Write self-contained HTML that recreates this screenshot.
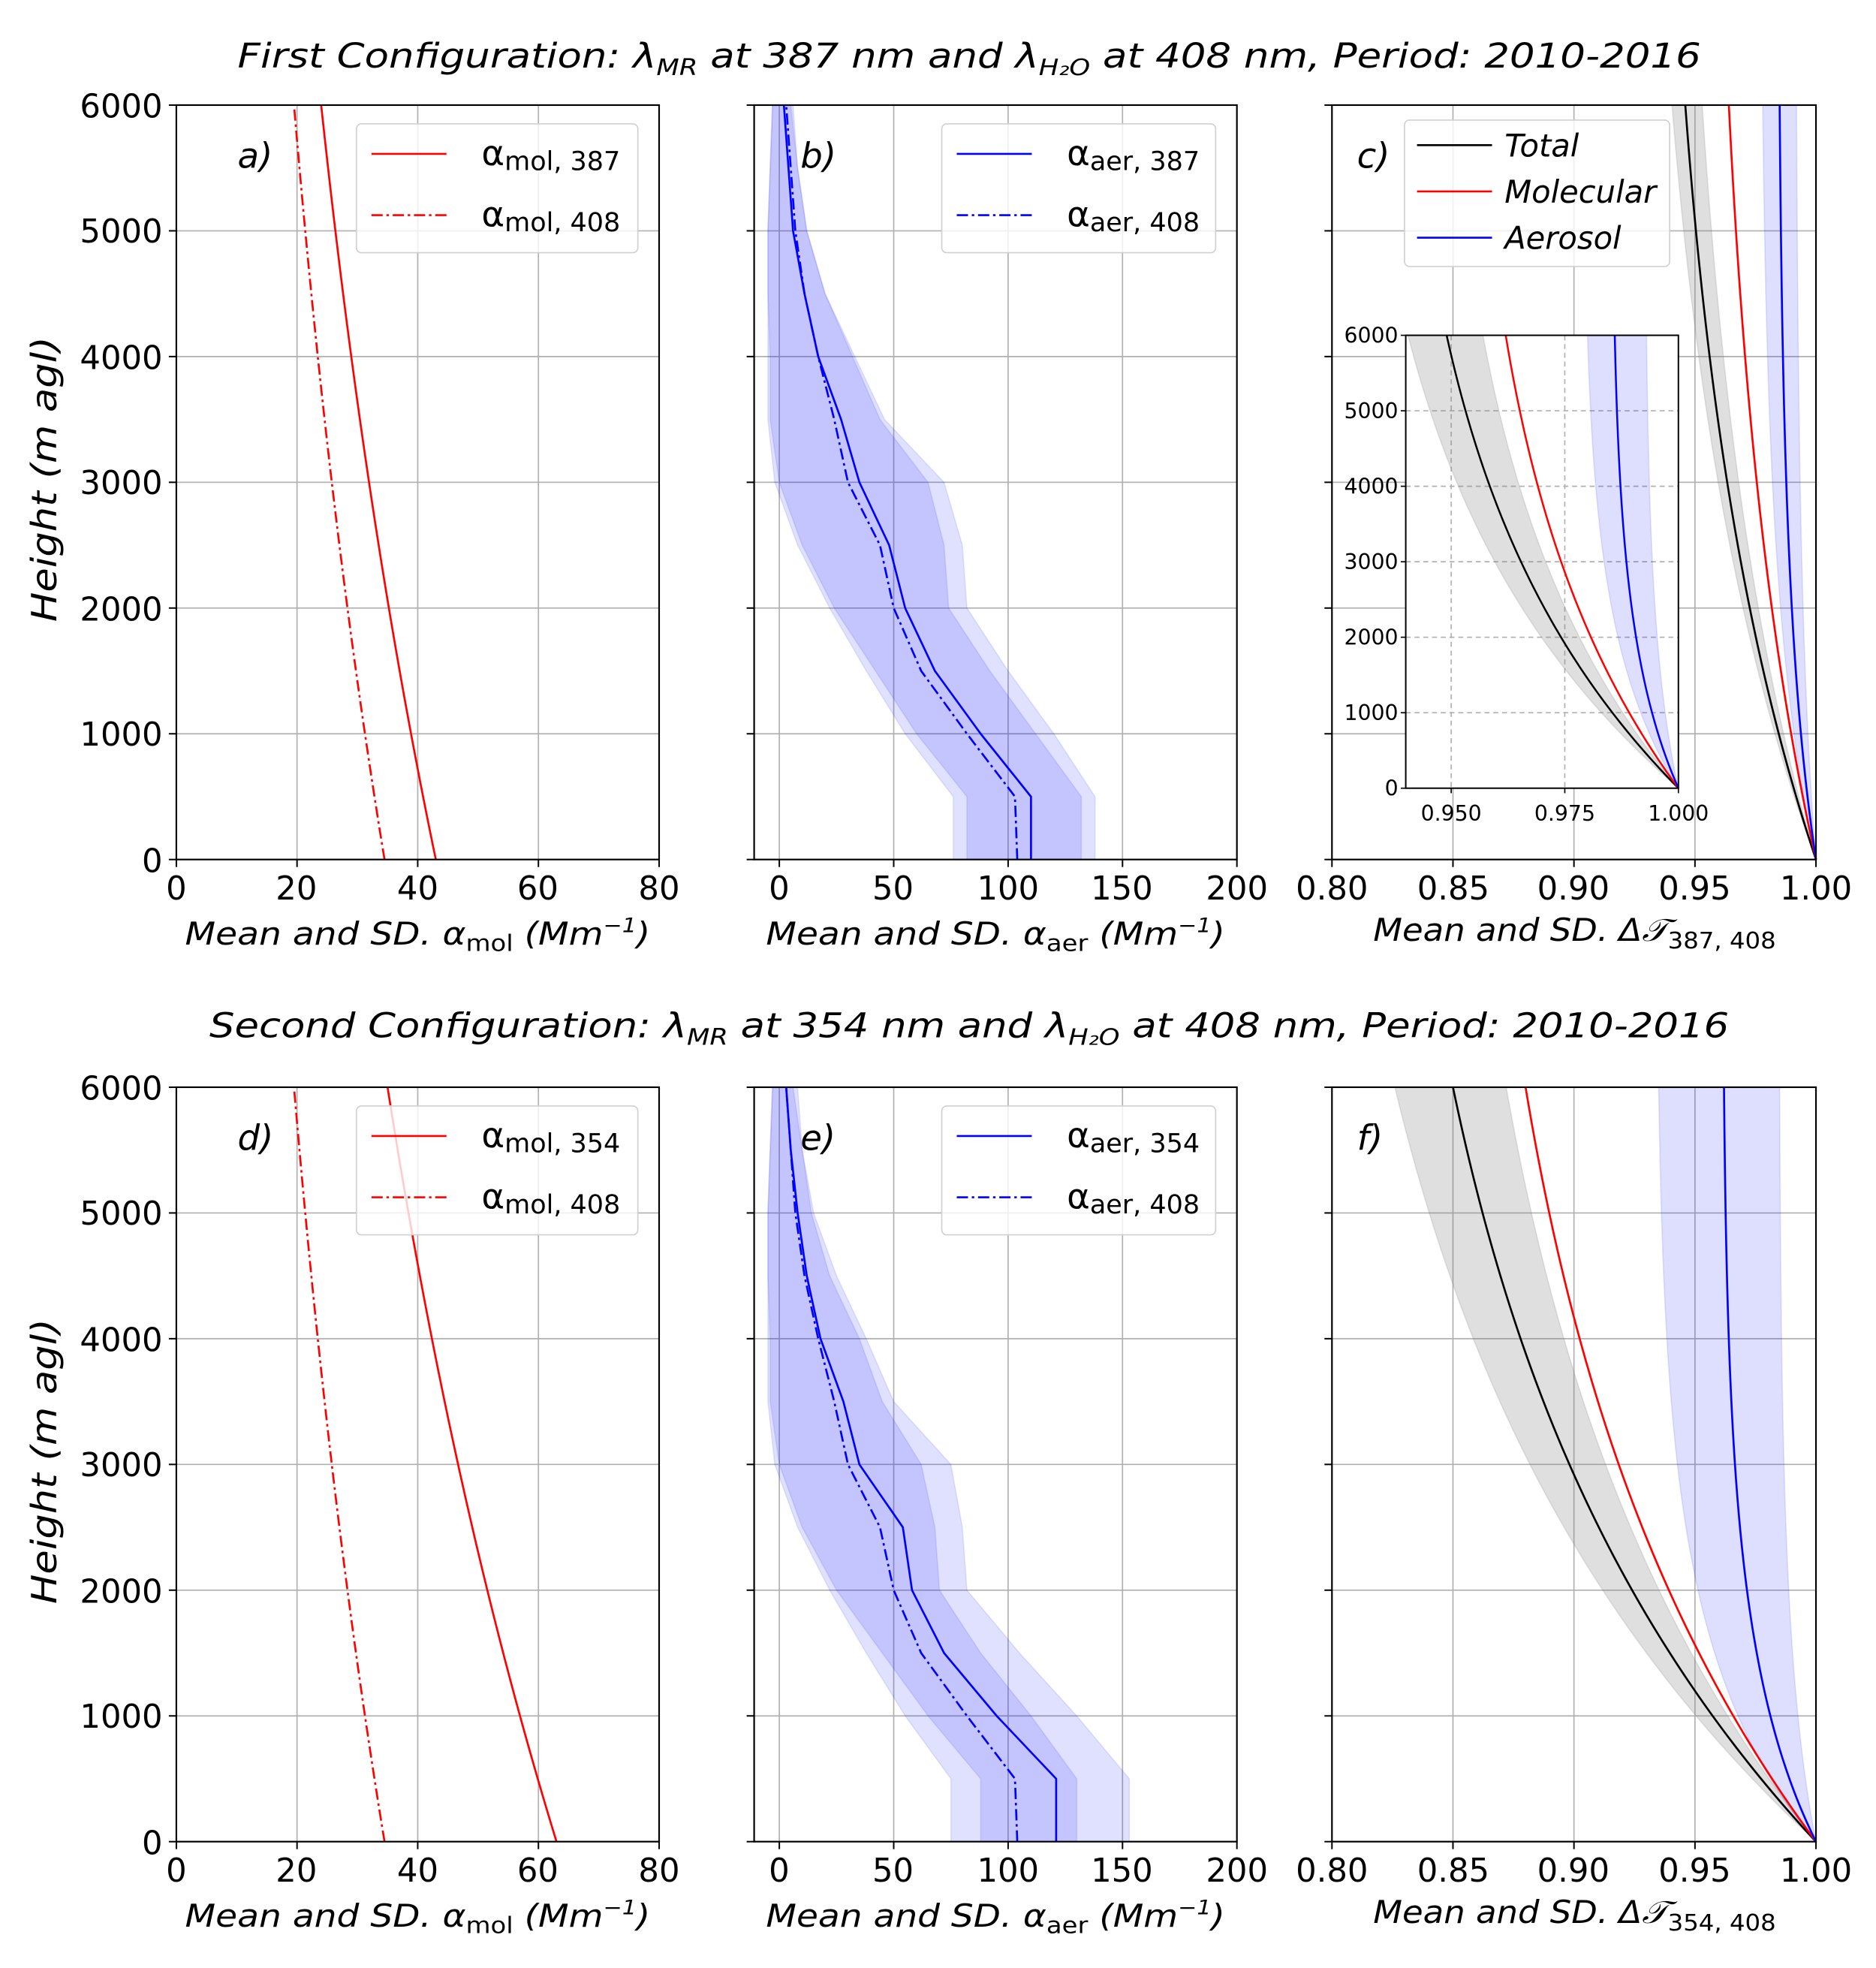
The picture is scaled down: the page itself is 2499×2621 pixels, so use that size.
<!DOCTYPE html>
<html><head><meta charset="utf-8">
<style>
html,body{margin:0;padding:0;background:#fff;}
svg{display:block;}
text{font-family:"DejaVu Sans","Liberation Sans",sans-serif;fill:#000;}
.tk{font-size:26px;}
.it{font-style:italic;}
</style></head>
<body>
<svg id="s" width="2499" height="2621" viewBox="0 0 1500 1573" preserveAspectRatio="none" xmlns="http://www.w3.org/2000/svg">
<rect width="1500" height="1573" fill="#fff"/>
<g id="plots"></g>
<text x="775" y="54" text-anchor="middle" font-size="27" class="it" textLength="1170" lengthAdjust="spacingAndGlyphs">First Configuration:  λ<tspan font-size="18" dy="6">MR</tspan><tspan dy="-6"> at 387 nm and λ</tspan><tspan font-size="18" dy="6">H₂O</tspan><tspan dy="-6"> at 408 nm, Period: 2010-2016</tspan></text>
<text x="775" y="829" text-anchor="middle" font-size="27" class="it" textLength="1215" lengthAdjust="spacingAndGlyphs">Second Configuration:  λ<tspan font-size="18" dy="6">MR</tspan><tspan dy="-6"> at 354 nm and λ</tspan><tspan font-size="18" dy="6">H₂O</tspan><tspan dy="-6"> at 408 nm, Period: 2010-2016</tspan></text>
<text transform="translate(45,383) rotate(-90)" text-anchor="middle" font-size="28" class="it" textLength="228" lengthAdjust="spacingAndGlyphs">Height (m agl)</text>
<text transform="translate(45,1168) rotate(-90)" text-anchor="middle" font-size="28" class="it" textLength="228" lengthAdjust="spacingAndGlyphs">Height (m agl)</text>
<text x="334" y="755" text-anchor="middle" font-size="25" class="it" textLength="372" lengthAdjust="spacingAndGlyphs">Mean and SD. α<tspan font-size="18" dy="5" font-style="normal">mol</tspan><tspan dy="-5"> (Mm</tspan><tspan font-size="16" dy="-10">−1</tspan><tspan dy="10">)</tspan></text>
<text x="796" y="755" text-anchor="middle" font-size="25" class="it" textLength="367" lengthAdjust="spacingAndGlyphs">Mean and SD. α<tspan font-size="18" dy="5" font-style="normal">aer</tspan><tspan dy="-5"> (Mm</tspan><tspan font-size="16" dy="-10">−1</tspan><tspan dy="10">)</tspan></text>
<text x="1259" y="752" text-anchor="middle" font-size="25" class="it" textLength="322" lengthAdjust="spacingAndGlyphs">Mean and SD. Δ𝒯<tspan font-size="18" dy="6" font-style="normal">387, 408</tspan></text>
<text x="334" y="1540" text-anchor="middle" font-size="25" class="it" textLength="372" lengthAdjust="spacingAndGlyphs">Mean and SD. α<tspan font-size="18" dy="5" font-style="normal">mol</tspan><tspan dy="-5"> (Mm</tspan><tspan font-size="16" dy="-10">−1</tspan><tspan dy="10">)</tspan></text>
<text x="796" y="1540" text-anchor="middle" font-size="25" class="it" textLength="367" lengthAdjust="spacingAndGlyphs">Mean and SD. α<tspan font-size="18" dy="5" font-style="normal">aer</tspan><tspan dy="-5"> (Mm</tspan><tspan font-size="16" dy="-10">−1</tspan><tspan dy="10">)</tspan></text>
<text x="1259" y="1537" text-anchor="middle" font-size="25" class="it" textLength="322" lengthAdjust="spacingAndGlyphs">Mean and SD. Δ𝒯<tspan font-size="18" dy="6" font-style="normal">354, 408</tspan></text>
<g class="tk" text-anchor="end">
<text x="130" y="94">6000</text><text x="130" y="194">5000</text><text x="130" y="295">4000</text><text x="130" y="395">3000</text><text x="130" y="496">2000</text><text x="130" y="596">1000</text><text x="130" y="697">0</text>
<text x="130" y="879">6000</text><text x="130" y="979">5000</text><text x="130" y="1080">4000</text><text x="130" y="1180">3000</text><text x="130" y="1281">2000</text><text x="130" y="1381">1000</text><text x="130" y="1482">0</text>
</g>
<g class="tk" text-anchor="middle">
<text x="141" y="719">0</text><text x="237" y="719">20</text><text x="334" y="719">40</text><text x="430" y="719">60</text><text x="527" y="719">80</text>
<text x="623" y="719">0</text><text x="714" y="719">50</text><text x="806" y="719">100</text><text x="897" y="719">150</text><text x="989" y="719">200</text>
<text x="1065" y="719">0.80</text><text x="1162" y="719">0.85</text><text x="1258" y="719">0.90</text><text x="1355" y="719">0.95</text><text x="1452" y="719">1.00</text>
<text x="141" y="1504">0</text><text x="237" y="1504">20</text><text x="334" y="1504">40</text><text x="430" y="1504">60</text><text x="527" y="1504">80</text>
<text x="623" y="1504">0</text><text x="714" y="1504">50</text><text x="806" y="1504">100</text><text x="897" y="1504">150</text><text x="989" y="1504">200</text>
<text x="1065" y="1504">0.80</text><text x="1162" y="1504">0.85</text><text x="1258" y="1504">0.90</text><text x="1355" y="1504">0.95</text><text x="1452" y="1504">1.00</text>
</g>
<g font-size="28" class="it">
<text x="190" y="134">a)</text><text x="640" y="134">b)</text><text x="1085" y="134">c)</text>
<text x="190" y="919">d)</text><text x="640" y="919">e)</text><text x="1085" y="919">f)</text>
</g>
<g id="legends"></g>
</svg>
<script>
const NS="http://www.w3.org/2000/svg";
const G=document.getElementById('plots');
function el(tag,attrs,parent){const e=document.createElementNS(NS,tag);for(const k in attrs)e.setAttribute(k,attrs[k]);(parent||G).appendChild(e);return e;}
function mk(x0,x1,y0,y1,xmin,xmax){return {X:v=>x0+(v-xmin)/(xmax-xmin)*(x1-x0),Y:h=>y1-(h/6000)*(y1-y0),x0,x1,y0,y1};}
function frame(p,xt,yt,grid,dash){
  for(const v of xt){const x=p.X(v);el('line',{x1:x,x2:x,y1:p.y0,y2:p.y1,stroke:'#b0b0b0','stroke-width':grid,'stroke-dasharray':dash||''});}
  for(const h of yt){const y=p.Y(h);el('line',{x1:p.x0,x2:p.x1,y1:y,y2:y,stroke:'#b0b0b0','stroke-width':grid,'stroke-dasharray':dash||''});}
}
function border(p,xt,yt){
  el('rect',{x:p.x0,y:p.y0,width:p.x1-p.x0,height:p.y1-p.y0,fill:'none',stroke:'#000','stroke-width':1.3});
  for(const v of xt){const x=p.X(v);el('line',{x1:x,x2:x,y1:p.y1,y2:p.y1+6,stroke:'#000','stroke-width':1.2});}
  for(const h of yt){const y=p.Y(h);el('line',{x1:p.x0-6,x2:p.x0,y1:y,y2:y,stroke:'#000','stroke-width':1.2});}
}
function interp(arr,h){const i=Math.min(Math.floor(h/500),11);const t=(h-i*500)/500;return arr[i]*(1-t)+arr[i+1]*t;}
function line(p,f,color,w,dash){let d='';for(let h=0;h<=6000;h+=50){const v=f(h);d+=(h?'L':'M')+p.X(v).toFixed(2)+','+p.Y(h).toFixed(2);}
  el('path',{d,fill:'none',stroke:color,'stroke-width':w||1.5,'stroke-dasharray':dash||''});}
function band(p,fl,fr,color,op){let d='';for(let h=0;h<=6000;h+=50)d+=(h?'L':'M')+p.X(fl(h)).toFixed(2)+','+p.Y(h).toFixed(2);
  for(let h=6000;h>=0;h-=50)d+='L'+p.X(fr(h)).toFixed(2)+','+p.Y(h).toFixed(2);
  el('path',{d:d+'Z',fill:color,'fill-opacity':op,stroke:color,'stroke-opacity':op*0.8,'stroke-width':1});}
const DD='9,3,2,3';
const yt=[0,1000,2000,3000,4000,5000,6000];
const mol=(a,b,Hs)=>h=>b+(a-b)*(Math.exp(-h/Hs)-Math.exp(-6000/Hs))/(1-Math.exp(-6000/Hs));
const tau=(a,Hs)=>h=>1-a*(1-Math.exp(-h/Hs))/(1-Math.exp(-6000/Hs));
function rows(top,bot,cfg){
  let p=mk(141,527,top,bot,0,80);frame(p,[0,20,40,60,80],yt,1);
  line(p,mol(cfg.m1[0],cfg.m1[1],9000),'#ff0000',1.6);
  line(p,mol(34.5,19.5,9000),'#ff0000',1.6,DD);
  border(p,[0,20,40,60,80],yt);
  p=mk(603,989,top,bot,-11,200);frame(p,[0,50,100,150],yt,1);
  band(p,h=>interp(cfg.bL1,h),h=>interp(cfg.bR1,h),'#0000ff',0.12);
  band(p,h=>interp(cfg.bL2,h),h=>interp(cfg.bR2,h),'#0000ff',0.12);
  line(p,h=>interp(cfg.a1,h),'#0000ff',1.6);
  line(p,h=>interp(cfg.a2,h),'#0000ff',1.6,DD);
  border(p,[0,50,100,150,200],yt);
  p=mk(1065,1452,top,bot,0.8,1.0);frame(p,[0.85,0.9,0.95],yt,1);
  const t=cfg.t;
  band(p,tau(t.gl,4000),tau(t.gr,4000),'#808080',0.25);
  band(p,tau(t.bl,t.bH),tau(t.br,t.bH),'#0000ff',0.13);
  line(p,tau(t.tot,4000),'#000',1.6);
  line(p,tau(t.mol,4000),'#ff0000',1.6);
  line(p,tau(t.aer,t.bH),'#0000ff',1.6);
  border(p,[0.8,0.85,0.9,0.95,1.0],yt);
}
rows(84,687,{m1:[43,24],a1:[110,110,88,68,55,48,35,27,17,11,6,4,2],a2:[104,103,82,62,50,44,30,24,17,11,7,5,3],
 bL1:[82,82,60,42,24,10,0,-4,-4,-5,-5,-4,-3],bR1:[138,138,120,100,82,80,72,46,33,20,12,8,6],
 bL2:[76,76,55,38,22,8,-2,-5,-5,-5,-5,-4,-3],bR2:[132,132,112,92,74,72,65,44,32,20,12,8,5],
 t:{tot:0.054,mol:0.036,aer:0.015,gl:0.0595,gr:0.047,bl:0.022,br:0.008,bH:2000}});
rows(869,1472,{m1:[63,35],a1:[121,121,95,72,58,54,35,28,18,12,8,5,3],a2:[104,103,82,62,50,44,30,24,17,11,7,5,3],
 bL1:[88,88,65,45,25,10,0,-4,-4,-5,-5,-4,-3],bR1:[153,153,130,105,82,80,75,50,38,25,15,10,8],
 bL2:[75,75,55,38,22,8,-2,-5,-5,-5,-5,-4,-3],bR2:[130,130,110,88,70,68,62,45,35,22,14,10,6],
 t:{tot:0.15,mol:0.12,aer:0.038,gl:0.174,gr:0.128,bl:0.065,br:0.015,bH:1500}});
(function(){
  const p=mk(1124,1342,268,630,0.94,1.0);
  el('rect',{x:1124,y:268,width:218,height:362,fill:'#fff'});
  for(const v of [0.95,0.975]){const x=p.X(v);el('line',{x1:x,x2:x,y1:p.y0,y2:p.y1,stroke:'#b0b0b0','stroke-width':1,'stroke-dasharray':'4,3'});}
  for(const h of [1000,2000,3000,4000,5000]){const y=p.Y(h);el('line',{x1:p.x0,x2:p.x1,y1:y,y2:y,stroke:'#b0b0b0','stroke-width':1,'stroke-dasharray':'4,3'});}
  band(p,tau(0.0595,4000),tau(0.043,4000),'#808080',0.25);
  band(p,tau(0.02,2000),tau(0.007,2000),'#0000ff',0.13);
  line(p,tau(0.051,4000),'#000',1.5);
  line(p,tau(0.038,4000),'#ff0000',1.5);
  line(p,tau(0.014,2000),'#0000ff',1.5);
  el('rect',{x:1124,y:268,width:218,height:362,fill:'none',stroke:'#000','stroke-width':1.2});
  const lab=[[0,'0'],[1000,'1000'],[2000,'2000'],[3000,'3000'],[4000,'4000'],[5000,'5000'],[6000,'6000']];
  for(const [h,s] of lab){const y=p.Y(h);el('line',{x1:1120,x2:1124,y1:y,y2:y,stroke:'#000'});const t=el('text',{x:1118,y:y+6,'text-anchor':'end','font-size':17});t.textContent=s;}
  for(const v of [0.95,0.975,1.0]){const x=p.X(v);el('line',{x1:x,x2:x,y1:630,y2:634,stroke:'#000'});const t=el('text',{x:x,y:656,'text-anchor':'middle','font-size':17});t.textContent=v.toFixed(3);}
})();
const L=document.getElementById('legends');
function box(x,y,w,h){el('rect',{x,y,width:w,height:h,rx:4,fill:'#fff','fill-opacity':0.8,stroke:'#d0d0d0','stroke-width':1},L);}
function ent(x,y,color,dash,label,sub){
  el('line',{x1:x,x2:x+60,y1:y,y2:y,stroke:color,'stroke-width':1.6,'stroke-dasharray':dash||''},L);
  const t=el('text',{x:x+88,y:y+9,'font-size':28},L);
  if(sub){t.innerHTML='α<tspan font-size="21" dy="4">'+sub+'</tspan>';}
  else{t.setAttribute('font-size','25');t.setAttribute('font-style','italic');t.setAttribute('x',x+70);t.setAttribute('y',y+9);t.textContent=label;}
}
for(const [top,s1,s2,c] of [[99,'mol, 387','mol, 408','#ff0000'],[884,'mol, 354','mol, 408','#ff0000']]){
  box(285,top,225,103);ent(297,top+24,c,'','',s1);ent(297,top+73,c,DD,'',s2);
}
for(const [top,s1,s2] of [[99,'aer, 387','aer, 408'],[884,'aer, 354','aer, 408']]){
  box(753,top,219,103);ent(765,top+24,'#0000ff','','',s1);ent(765,top+73,'#0000ff',DD,'',s2);
}
box(1123,96,212,117);
ent(1133,116,'#000','', 'Total');ent(1133,153,'#ff0000','','Molecular');ent(1133,190,'#0000ff','','Aerosol');
</script>
</body></html>
